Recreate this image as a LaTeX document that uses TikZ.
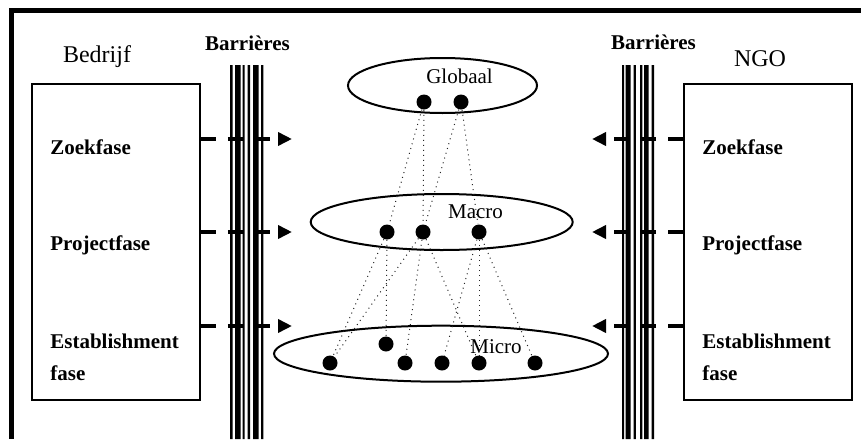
\documentclass[tikz,border=0pt]{standalone}
\usepackage{fontspec}
\setmainfont{Liberation Serif}
\usepackage{tikz}
\usetikzlibrary{arrows.meta}
\usetikzlibrary{positioning}
\usetikzlibrary{shapes.geometric}

\begin{document}
\begin{tikzpicture}
    [
      x=0.5pt, y=-0.5pt,
      % Stil für die Akteure
      akteur/.style={rectangle, draw, line width=0.8pt, minimum width=84pt, minimum height=158pt, inner sep=0pt},
      titel/.style={anchor=base, inner sep=0pt, font=\fontsize{12}{14}\selectfont},
      bartitel/.style={anchor=base, inner sep=0pt, font=\fontsize{10.5}{12}\selectfont\bfseries},
      fase/.style={anchor=base west, inner sep=0pt, font=\fontsize{10.5}{12}\selectfont\bfseries},
      % Stil für die Ebenen
      ebene/.style={ellipse, draw, line width=1pt, inner sep=0pt},
      ebenetxt/.style={anchor=base, inner sep=0pt, font=\fontsize{10.5}{12}\selectfont},
      punkt/.style={circle, fill=black, inner sep=0pt, minimum size=7.5pt},
      relation/.style={dotted, line width=0.5pt, black!85},
      pfeil/.style={line width=2pt, dash pattern=on 7.5pt off 6pt, -{Triangle[length=7pt, width=6.5pt]}}]
    \useasboundingbox (0,0) rectangle (861,439);

    % Rahmen
    \draw[line width=2.5pt] (861,10.8) -- (11,10.8) -- (11,439);

    % Barrieren
    \fill (230,65) rectangle (232.5,439) (235,65) rectangle (240.5,439)
      (242.5,65) rectangle (244.5,439) (247.5,65) rectangle (250,439)
      (253,65) rectangle (258.5,439) (261,65) rectangle (263.3,439);
    \fill (622,65) rectangle (624,439) (625.7,65) rectangle (630.7,439)
      (633.5,65) rectangle (635.8,439) (640,65) rectangle (642.3,439)
      (644,65) rectangle (648.7,439) (651.7,65) rectangle (654,439);
    \node[bartitel] (barlinks) at (247.5,50) {Barrières};
    \node[bartitel] (barrechts) at (653.5,49) {Barrières};

    % Knoten
    \node[akteur] (bedrijf) at (116,242) {};
    \node[akteur] (ngo) at (768,242) {};
    \node[titel] (bedrijftitel) at (97,62.3) {Bedrijf};
    \node[titel] (ngotitel) at (760,66.7) {NGO};

    \node[fase] (zoekL) at (50,154) {Zoekfase};
    \node[fase] (projectL) at (50,250.5) {Projectfase};
    \node[fase] (estabL) at (50,348.7) {Establishment};
    \node[fase] (estabL2) at (50,380) {fase};
    \node[fase] (zoekR) at (702,154) {Zoekfase};
    \node[fase] (projectR) at (702,250.5) {Projectfase};
    \node[fase] (estabR) at (702,348.7) {Establishment};
    \node[fase] (estabR2) at (702,380) {fase};

    % Pfeile durch die Barrieren
    \coordinate (zoekLend) at (292,139);
    \coordinate (projectLend) at (292,232);
    \coordinate (estabLend) at (292,326);
    \coordinate (zoekRend) at (592,139);
    \coordinate (projectRend) at (592,232);
    \coordinate (estabRend) at (592,326);
    \draw[pfeil] (bedrijf.east |- zoekLend) -- (zoekLend);
    \draw[pfeil] (bedrijf.east |- projectLend) -- (projectLend);
    \draw[pfeil] (bedrijf.east |- estabLend) -- (estabLend);
    \draw[pfeil] (ngo.west |- zoekRend) -- (zoekRend);
    \draw[pfeil] (ngo.west |- projectRend) -- (projectRend);
    \draw[pfeil] (ngo.west |- estabRend) -- (estabRend);

    % Ebenen
    \node[ebene, minimum width=94.5pt, minimum height=27.5pt] (globaal) at (442.5,85.5) {};
    \node[ebene, minimum width=131pt, minimum height=28pt] (macro) at (441.7,222) {};
    \node[ebene, minimum width=167pt, minimum height=28pt] (micro) at (441,353.7) {};
    \node[ebenetxt] (globaaltxt) at (459.5,83.3) {Globaal};
    \node[ebenetxt] (macrotxt) at (475.5,218.3) {Macro};
    \node[ebenetxt] (microtxt) at (496,353.3) {Micro};

    \node[punkt] (g1) at (424,102) {};
    \node[punkt] (g2) at (461,102) {};
    \node[punkt] (m1) at (387,232) {};
    \node[punkt] (m2) at (423,232) {};
    \node[punkt] (m3) at (479,232) {};
    \node[punkt] (k1) at (330,363) {};
    \node[punkt] (k2) at (386,344) {};
    \node[punkt] (k3) at (405,363) {};
    \node[punkt] (k4) at (442,363) {};
    \node[punkt] (k5) at (479,363) {};
    \node[punkt] (k6) at (535,363) {};

    % Kanten
    \path[relation]
      (g1) edge (m1)
      (g1) edge (m2)
      (g2) edge (m2)
      (g2) edge (m3)
      (m1) edge (k1)
      (m1) edge (k2)
      (m2) edge (k1)
      (m2) edge (k3)
      (m2) edge (k5)
      (m3) edge (k4)
      (m3) edge (k5)
      (m3) edge (k6);

  \end{tikzpicture}
\end{document}
